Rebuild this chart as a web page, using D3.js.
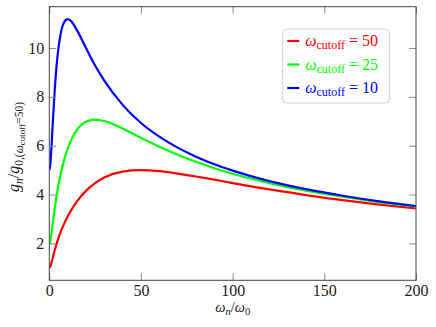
<!DOCTYPE html>
<html>
<head>
<meta charset="utf-8">
<script src="https://cdn.jsdelivr.net/npm/d3@7"></script>
<style>
  body { margin: 0; background: #fff; }
</style>
</head>
<body>
<div id="chart"></div>
<script>
/* -----------------------
data
------------------------- */

var xs = [0, 0.5, 1, 1.5, 2, 3, 4, 5, 6, 8, 10, 12, 15, 20, 25, 30, 40, 50, 60, 70, 80, 90, 100, 120, 140, 160, 180, 200];

var g_50 = [1.00, 1.04, 1.15, 1.29, 1.44, 1.73, 1.99, 2.22, 2.43, 2.79, 3.10, 3.37, 3.71, 4.15, 4.47, 4.70, 4.94, 5.00, 4.96, 4.86, 4.74, 4.61, 4.47, 4.21, 3.98, 3.77, 3.59, 3.43];
var g_25 = [2.00, 2.08, 2.29, 2.57, 2.87, 3.45, 3.95, 4.39, 4.76, 5.39, 5.87, 6.25, 6.64, 6.98, 7.07, 7.01, 6.70, 6.32, 5.96, 5.63, 5.34, 5.08, 4.85, 4.47, 4.16, 3.91, 3.69, 3.51];
var g_10 = [5.00, 5.19, 5.70, 6.37, 7.06, 8.32, 9.29, 10.00, 10.50, 11.04, 11.18, 11.09, 10.74, 10.00, 9.28, 8.66, 7.67, 6.93, 6.37, 5.92, 5.55, 5.24, 4.98, 4.55, 4.22, 3.95, 3.72, 3.53];

var cutoffs = ['50', '25', '10'];
var x_ticks = [0, 50, 100, 150, 200];
var y_ticks = [2, 4, 6, 8, 10];

/* -----------------------
main variables
------------------------- */

var width = 436, height = 327;
var margin = {top: 6.7, right: 20, bottom: 46.7, left: 49.3};
var plot_w = width - margin.left - margin.right,
    plot_h = height - margin.top - margin.bottom;

var font = '"Liberation Serif", "Times New Roman", serif';
var font_size = '16px';
var c_lines = ['#ff0000', '#00ff00', '#0000ff'],
    c_spine = '#444',
    c_tick = '#8a8a8a';
var tick_len = 7;

var series = [g_50, g_25, g_10];

/* -----------------------
set plot
------------------------- */

var svg = d3.select('#chart')
  .append('svg')
  .attr('width', width)
  .attr('height', height);

var plot = svg.append('g')
  .attr('transform', 'translate(' + margin.left + ',' + margin.top + ')');

var x = d3.scaleLinear().domain([0, 200]).range([0, plot_w]);
var y = d3.scaleLinear().domain([0.49, 11.69]).range([plot_h, 0]);

plot.append('defs').append('clipPath').attr('id', 'clip')
  .append('rect').attr('width', plot_w).attr('height', plot_h);

// curves
var line = d3.line()
  .x(function (d) { return x(d[0]); })
  .y(function (d) { return y(d[1]); })
  .curve(d3.curveMonotoneX);

series.forEach(function (s, k) {
  plot.append('path')
    .datum(xs.map(function (v, i) { return [v, s[i]]; }))
    .attr('clip-path', 'url(#clip)')
    .attr('d', line)
    .attr('fill', 'none')
    .attr('stroke', c_lines[k])
    .attr('stroke-width', 2.2);
});

/* -----------------------
axes (inward ticks on every side)
------------------------- */

function styleAxis(g) {
  g.select('.domain').remove();
  g.selectAll('.tick line').attr('stroke', c_tick).attr('stroke-width', 1);
  g.selectAll('.tick text')
    .attr('fill', '#222')
    .style('font-family', font)
    .style('font-size', font_size);
}

plot.append('g')
  .attr('transform', 'translate(0,' + plot_h + ')')
  .call(d3.axisBottom(x).tickValues(x_ticks).tickSizeInner(-tick_len).tickSizeOuter(0).tickPadding(4))
  .call(styleAxis);

plot.append('g')
  .call(d3.axisTop(x).tickValues(x_ticks).tickSizeInner(-tick_len).tickSizeOuter(0).tickFormat(''))
  .call(styleAxis);

plot.append('g')
  .call(d3.axisLeft(y).tickValues(y_ticks).tickSizeInner(-tick_len).tickSizeOuter(0).tickPadding(5))
  .call(styleAxis);

plot.append('g')
  .attr('transform', 'translate(' + plot_w + ',0)')
  .call(d3.axisRight(y).tickValues(y_ticks).tickSizeInner(-tick_len).tickSizeOuter(0).tickFormat(''))
  .call(styleAxis);

// spines
plot.append('rect')
  .attr('width', plot_w)
  .attr('height', plot_h)
  .attr('fill', 'none')
  .attr('stroke', c_spine)
  .attr('stroke-width', 1);

/* -----------------------
labels
------------------------- */

var xl = svg.append('text')
  .attr('x', margin.left + plot_w / 2)
  .attr('y', 312)
  .attr('text-anchor', 'middle')
  .attr('fill', '#222')
  .style('font-family', font)
  .style('font-size', '14.5px');
xl.append('tspan').attr('font-style', 'italic').text('ω');
xl.append('tspan').attr('font-style', 'italic').attr('dy', 3).style('font-size', '10.5px').text('n');
xl.append('tspan').attr('dy', -3).text('/');
xl.append('tspan').attr('font-style', 'italic').text('ω');
xl.append('tspan').attr('dy', 3).style('font-size', '10.5px').text('0');

var yl = svg.append('text')
  .attr('transform', 'translate(19,147) rotate(-90)')
  .attr('text-anchor', 'middle')
  .attr('fill', '#222')
  .style('font-family', font)
  .style('font-size', font_size);
yl.append('tspan').attr('font-style', 'italic').text('g');
yl.append('tspan').attr('font-style', 'italic').attr('dy', 4).style('font-size', '11.5px').text('n');
yl.append('tspan').attr('dy', -4).text('/');
yl.append('tspan').attr('font-style', 'italic').text('g');
yl.append('tspan').attr('dy', 4).style('font-size', '11.5px').text('0,(');
yl.append('tspan').attr('font-style', 'italic').style('font-size', '11.5px').text('ω');
yl.append('tspan').attr('dy', 2).style('font-size', '9px').text('cutoff');
yl.append('tspan').attr('dy', -2).style('font-size', '11.5px').text('=50)');

/* -----------------------
legend
------------------------- */

var legend = svg.append('g').attr('transform', 'translate(282.7,29)');

legend.append('rect')
  .attr('width', 106.6)
  .attr('height', 74)
  .attr('rx', 4)
  .attr('fill', 'white')
  .attr('fill-opacity', 0.8)
  .attr('stroke', '#cfcfcf')
  .attr('stroke-width', 1);

var item = legend.selectAll('.item')
  .data(cutoffs)
  .enter()
  .append('g')
  .attr('class', 'item')
  .attr('transform', function (d, i) { return 'translate(0,' + (12 + i * 23.5) + ')'; });

item.append('line')
  .attr('x1', 4.6).attr('x2', 16.6)
  .attr('stroke', function (d, i) { return c_lines[i]; })
  .attr('stroke-width', 2.2);

var lt = item.append('text')
  .attr('x', 22.5)
  .attr('y', 5)
  .attr('fill', function (d, i) { return c_lines[i]; })
  .style('font-family', font)
  .style('font-size', font_size);
lt.append('tspan').attr('font-style', 'italic').text('ω');
lt.append('tspan').attr('dy', 3).style('font-size', '12px').text('cutoff');
lt.append('tspan').attr('dy', -3).text(function (d) { return ' = ' + d; });
</script>
</body>
</html>
